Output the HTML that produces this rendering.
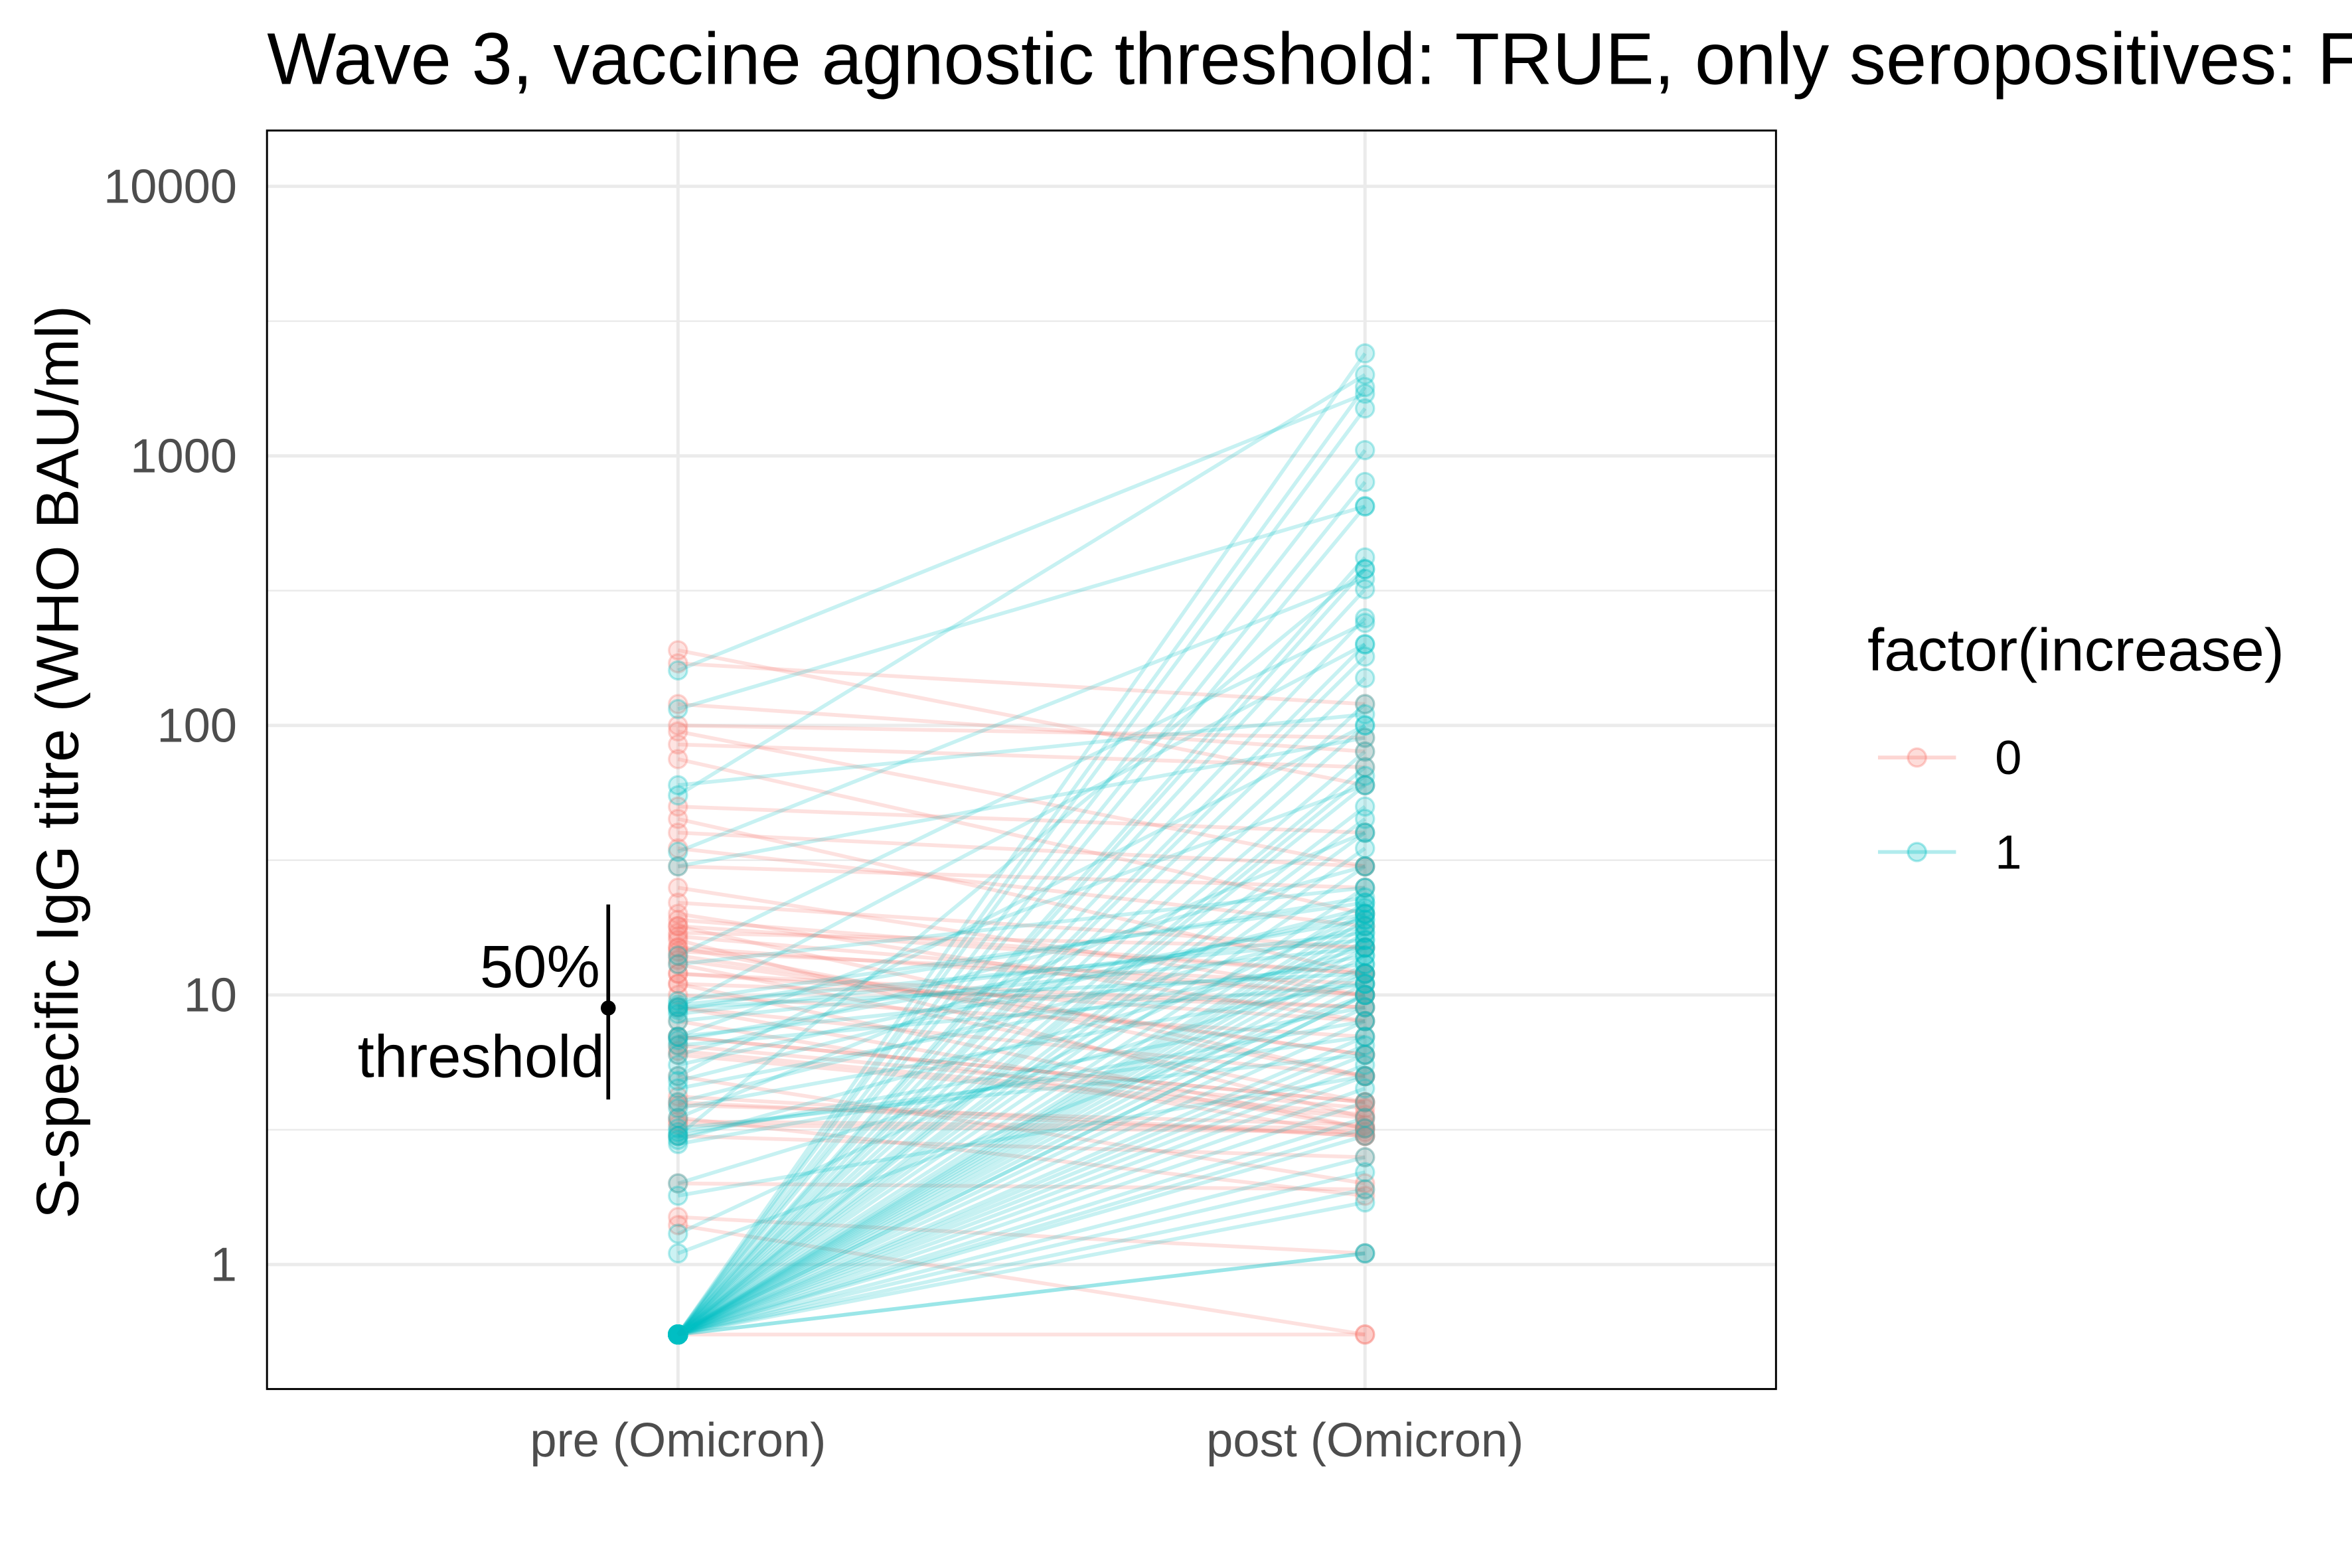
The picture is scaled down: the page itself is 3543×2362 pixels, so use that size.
<!DOCTYPE html>
<html><head><meta charset="utf-8"><style>
html,body{margin:0;padding:0;background:#fff;}
svg{display:block;font-family:"Liberation Sans",Arial,sans-serif;}
</style></head><body>
<svg id="chart" width="3543" height="2362" viewBox="0 0 1568 1045.3" xmlns="http://www.w3.org/2000/svg">
<rect x="0" y="0" width="1568" height="1046" fill="#fff"/>
<text x="178" y="56" font-size="48.8" fill="#000">Wave 3, vaccine agnostic threshold: TRUE, only seropositives: FALSE</text>
<g id="grid"></g>
<g id="lines"></g>
<g id="points"></g>
<rect x="178" y="87" width="1006" height="839" fill="none" stroke="#000" stroke-width="1.3"/>
<g id="yticks"></g>
<g id="xticks"></g>
<text transform="translate(52,508) rotate(-90)" text-anchor="middle" font-size="40" fill="#000">S-specific IgG titre (WHO BAU/ml)</text>
<g>
<line x1="405.5" y1="603" x2="405.5" y2="733" stroke="#000" stroke-width="2.5"/>
<circle cx="405.5" cy="672" r="5" fill="#000"/>
<text x="400" y="658" text-anchor="end" font-size="40">50%</text>
<text x="403" y="718" text-anchor="end" font-size="40">threshold</text>
</g>
<g>
<text x="1245" y="447" font-size="40">factor(increase)</text>
<g>
<line x1="1252" y1="505" x2="1304" y2="505" stroke="#F8766D" stroke-opacity="0.3" stroke-width="2.5"/>
<circle cx="1278" cy="505" r="6" fill="#F8766D" fill-opacity="0.25" stroke="#F8766D" stroke-opacity="0.35" stroke-width="1.5"/>
<text x="1330" y="516" font-size="32">0</text></g>
<g>
<line x1="1252" y1="568" x2="1304" y2="568" stroke="#00BFC4" stroke-opacity="0.3" stroke-width="2.5"/>
<circle cx="1278" cy="568" r="6" fill="#00BFC4" fill-opacity="0.25" stroke="#00BFC4" stroke-opacity="0.35" stroke-width="1.5"/>
<text x="1330" y="579" font-size="32">1</text></g>
</g>
</svg>
<script>
const categories=["pre (Omicron)","post (Omicron)"];
const yTickValues=[1,10,100,1000,10000];
const yTickLabels=["1","10","100","1000","10000"];
const preValues=[0.55,0.55,0.55,0.55,0.55,0.55,0.55,0.55,0.55,0.55,0.55,0.55,0.55,0.55,0.55,0.55,0.55,0.55,0.55,0.55,0.55,0.55,0.55,0.55,0.55,0.55,0.55,0.55,0.55,0.55,0.55,0.55,0.55,0.55,0.55,0.55,0.55,0.55,0.55,0.55,0.55,0.55,0.55,0.55,0.55,0.55,0.55,0.55,0.55,0.55,0.55,0.55,0.55,0.55,0.55,0.55,
160,55,115,3,9,5,7,3.5,9.5,1.3,2,4,1.1,6,8,3,9,4.5,1.8,6.5,2.8,3.2,7,30,60,34,13,14,2.9,5.5,8.5,3.8,9.2,6.8,4.8,3.1,8.8,
190,170,120,100,95,85,75,50,45,40,35,30,25,22,20,19,18,17,16,15,14,13,12,11,10,9,8,7,6,5,4,3.5,3,2,1.5,1.4,0.55,15,12,9,7,6.5,4.2,3.3,18,11,16.5,14.5,13.5,6.2,3.9,3.4];
const postValues=[1.1,1.1,1.7,1.9,2.2,2.5,3,3.2,3.5,4,4.5,5,5.5,6,6.5,7,8,9,10,10,11,12,13,14,15,16,17,18,19,20,22,25,30,35,40,45,50,60,65,70,80,100,120,150,180,200,250,320,380,420,650,800,1050,1500,1800,2400,
1700,2000,650,380,200,100,60,40,22,20,12,18,10,30,15,9,12,14,5,11,8,6,13,90,110,350,25,240,15,20,17,11,16,19,21,7,23,
60,120,80,90,30,70,20,40,12,30,18,25,10,15,8,12,5,15,3.5,10,6,4,9,3.2,7,5,3,4,3.5,2,3,1.8,2.5,1.9,1.1,0.55,0.55,5,8,3.2,4,3.8,3,3.1,12,9,10,11,6,3.6,3.3,3.2];
const increaseFlags=preValues.map((p,i)=>postValues[i]>p?1:0);
const NS="http://www.w3.org/2000/svg";
const panel={l:178,t:87,r:1184,b:926};
function yScale(v){return 843-179.7*Math.log10(v);}
function xScale(i){return [452,910][i];}
const colors=["#F8766D","#00BFC4"];
const grid=document.getElementById('grid');
function mk(tag,attrs,parent){const e=document.createElementNS(NS,tag);for(const k in attrs)e.setAttribute(k,attrs[k]);parent.appendChild(e);return e;}
for(let d=-0.5;d<=4.5;d+=0.5){const y=yScale(Math.pow(10,d));if(y<panel.t||y>panel.b)continue;
 const ln=mk('line',{x1:panel.l,x2:panel.r,y1:y,y2:y,stroke:'#ebebeb','stroke-width':Number.isInteger(d)?2.2:1.1},grid);
 
 }
categories.forEach((c,i)=>{const ln=mk('line',{x1:xScale(i),x2:xScale(i),y1:panel.t,y2:panel.b,stroke:'#ebebeb','stroke-width':2.2},grid);
 
 
 const t=mk('text',{x:xScale(i),y:971,'text-anchor':'middle','font-size':32,fill:'#4d4d4d'},document.getElementById('xticks'));
 t.textContent=c;
 
 });
yTickValues.forEach((v,i)=>{const t=mk('text',{x:158,y:yScale(v)+11,'text-anchor':'end','font-size':32,fill:'#4d4d4d'},document.getElementById('yticks'));
 t.textContent=yTickLabels[i];
 
 });
const lg=document.getElementById('lines'),pg=document.getElementById('points');
const order=[...preValues.keys()].sort((a,b)=>increaseFlags[a]-increaseFlags[b]);
order.forEach(i=>{const c=colors[increaseFlags[i]];
 const ln=mk('line',{x1:xScale(0),y1:yScale(preValues[i]),x2:xScale(1),y2:yScale(postValues[i]),stroke:c,'stroke-opacity':0.22,'stroke-width':2.5},lg);
 
 
 [[0,preValues[i]],[1,postValues[i]]].forEach(([k,v])=>{
  const p=mk('circle',{cx:xScale(k),cy:yScale(v),r:6,fill:c,'fill-opacity':0.2,stroke:c,'stroke-opacity':0.3,'stroke-width':1.5},pg);
  
  });
});
</script>
</body></html>
